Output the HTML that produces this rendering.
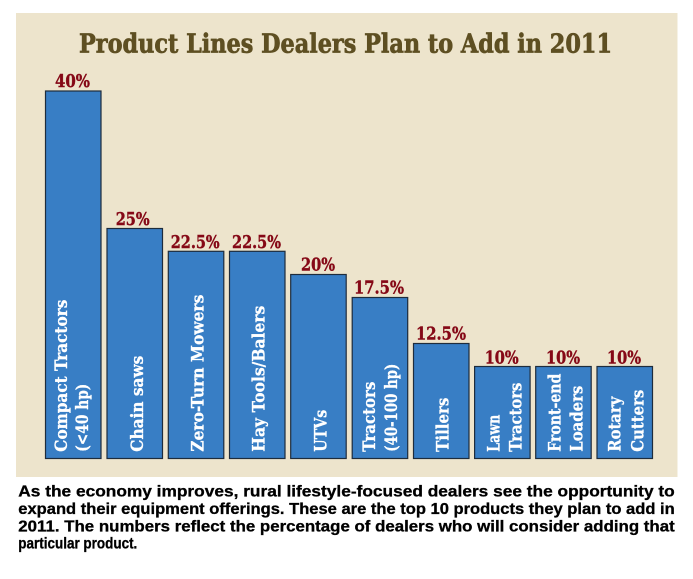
<!DOCTYPE html>
<html><head><meta charset="utf-8"><style>
html,body{margin:0;padding:0;background:#fff;width:693px;height:579px;overflow:hidden}
svg{display:block}
.ser{font-family:"DejaVu Serif","Liberation Serif",serif;font-weight:bold}
.san{font-family:"Liberation Sans",Arial,sans-serif;font-weight:bold}
</style></head><body>
<svg width="693" height="579" viewBox="0 0 693 579" xmlns="http://www.w3.org/2000/svg">
<rect x="16" y="13" width="661.5" height="464" fill="#ede4cc"/>
<text class="ser" x="79" y="52.7" font-size="26" fill="#5e4f22" stroke="#5e4f22" stroke-width="0.7" textLength="533" lengthAdjust="spacingAndGlyphs">Product Lines Dealers Plan to Add in 2011</text>

<g fill="#387ec5" stroke="#1e2c3c" stroke-width="1.2">
<rect x="45.5" y="91" width="55.5" height="367.5"/>
<rect x="107" y="228.5" width="55.5" height="230"/>
<rect x="168.3" y="251.3" width="55.5" height="207.2"/>
<rect x="229.5" y="251.3" width="55.5" height="207.2"/>
<rect x="290.7" y="274.5" width="55.5" height="184"/>
<rect x="352.2" y="297.5" width="55.5" height="161"/>
<rect x="413.5" y="343.5" width="55.5" height="115"/>
<rect x="474.6" y="366.5" width="55.5" height="92"/>
<rect x="535.7" y="366.5" width="55.5" height="92"/>
<rect x="597" y="366.5" width="55.5" height="92"/>
</g>

<g class="ser" font-size="17.5" fill="#850816" stroke="#850816" stroke-width="0.4">
<text x="55" y="87" textLength="35" lengthAdjust="spacingAndGlyphs">40%</text>
<text x="115.7" y="225" textLength="34" lengthAdjust="spacingAndGlyphs">25%</text>
<text x="170.7" y="248" textLength="49" lengthAdjust="spacingAndGlyphs">22.5%</text>
<text x="232" y="248" textLength="49" lengthAdjust="spacingAndGlyphs">22.5%</text>
<text x="301" y="270.7" textLength="34" lengthAdjust="spacingAndGlyphs">20%</text>
<text x="354" y="293.3" textLength="50" lengthAdjust="spacingAndGlyphs">17.5%</text>
<text x="416" y="339.3" textLength="50" lengthAdjust="spacingAndGlyphs">12.5%</text>
<text x="484.7" y="363.3" textLength="34" lengthAdjust="spacingAndGlyphs">10%</text>
<text x="546" y="363.3" textLength="34" lengthAdjust="spacingAndGlyphs">10%</text>
<text x="607" y="363.3" textLength="34" lengthAdjust="spacingAndGlyphs">10%</text>
</g>

<g class="ser" font-size="17" fill="#ffffff" stroke="#ffffff" stroke-width="0.3">
<text transform="translate(67,451.7) rotate(-90)" textLength="152" lengthAdjust="spacingAndGlyphs">Compact Tractors</text>
<text transform="translate(88,451.7) rotate(-90)" textLength="68" lengthAdjust="spacingAndGlyphs">(&lt;40 hp)</text>
<text transform="translate(143,451.7) rotate(-90)" textLength="96" lengthAdjust="spacingAndGlyphs">Chain saws</text>
<text transform="translate(203.3,451.7) rotate(-90)" textLength="157" lengthAdjust="spacingAndGlyphs">Zero-Turn Mowers</text>
<text transform="translate(264.5,451.7) rotate(-90)" textLength="146" lengthAdjust="spacingAndGlyphs">Hay Tools/Balers</text>
<text transform="translate(326.5,451.7) rotate(-90)" textLength="42" lengthAdjust="spacingAndGlyphs">UTVs</text>
<text transform="translate(375,451.7) rotate(-90)" textLength="70" lengthAdjust="spacingAndGlyphs">Tractors</text>
<text transform="translate(397,451.7) rotate(-90)" textLength="88" lengthAdjust="spacingAndGlyphs">(40-100 hp)</text>
<text transform="translate(448.3,451.7) rotate(-90)" textLength="54" lengthAdjust="spacingAndGlyphs">Tillers</text>
<text transform="translate(499.3,451.7) rotate(-90)" textLength="37" lengthAdjust="spacingAndGlyphs">Lawn</text>
<text transform="translate(521.7,451.7) rotate(-90)" textLength="69" lengthAdjust="spacingAndGlyphs">Tractors</text>
<text transform="translate(560.7,451.7) rotate(-90)" textLength="78" lengthAdjust="spacingAndGlyphs">Front-end</text>
<text transform="translate(582.3,451.7) rotate(-90)" textLength="66" lengthAdjust="spacingAndGlyphs">Loaders</text>
<text transform="translate(620.5,451.7) rotate(-90)" textLength="55" lengthAdjust="spacingAndGlyphs">Rotary</text>
<text transform="translate(643.3,451.7) rotate(-90)" textLength="62" lengthAdjust="spacingAndGlyphs">Cutters</text>
</g>

<g class="san" font-size="15.5" fill="#000000" stroke="#000000" stroke-width="0.3">
<text x="18.3" y="496.7" textLength="656.4" lengthAdjust="spacingAndGlyphs">As the economy improves, rural lifestyle-focused dealers see the opportunity to</text>
<text x="18.3" y="514" textLength="656.4" lengthAdjust="spacingAndGlyphs">expand their equipment offerings. These are the top 10 products they plan to add in</text>
<text x="18.3" y="531.3" textLength="656.4" lengthAdjust="spacingAndGlyphs">2011. The numbers reflect the percentage of dealers who will consider adding that</text>
<text x="18.3" y="548.3" textLength="119" lengthAdjust="spacingAndGlyphs">particular product.</text>
</g>
</svg>
</body></html>
